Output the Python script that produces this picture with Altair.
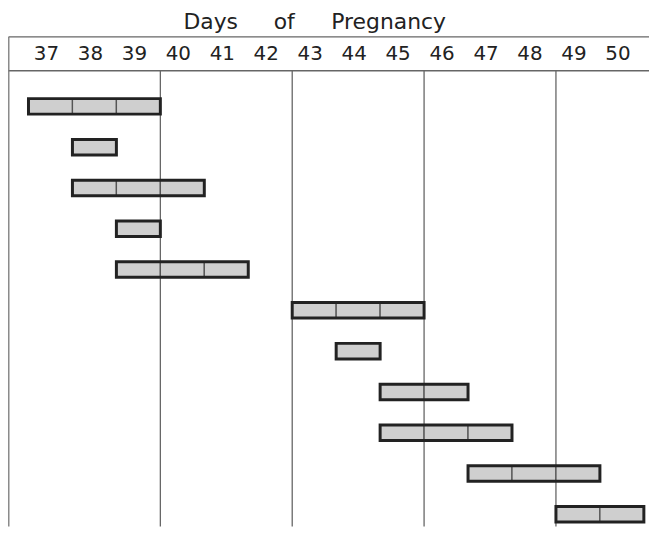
import altair as alt
import pandas as pd

# ---- data ----
days = list(range(37, 51))
bar_rows = list(range(1, 12))
bar_start = [37, 38, 38, 39, 39, 43, 44, 45, 45, 47, 49]
bar_end = [39, 38, 40, 39, 41, 45, 44, 46, 47, 49, 50]
week_ends = [39, 42, 45, 48]
title_words = ["Days", "of", "Pregnancy"]

# layout (pixels inside the plot area)
W, H = 645, 493
HEADER_Y = 34.5
title_x = [204, 278, 383]

bars = pd.DataFrame({"row": bar_rows, "start": bar_start, "end": bar_end})
cells = pd.DataFrame(
    [{"row": r, "day": d}
     for r, s, e in zip(bar_rows, bar_start, bar_end)
     for d in range(s, e + 1)]
)
weeks = pd.DataFrame({"day": week_ends})
hdr = pd.DataFrame({"day": days})
one = pd.DataFrame({"k": [0]})

xs = alt.Scale(domain=[36.034, 50.617], nice=False, zero=False)
ys = alt.Scale(domain=[-0.714, 11.296], nice=False, zero=False, reverse=True)
HALF = 0.19

# vertical week lines
vlines = alt.Chart(weeks).transform_calculate(xb="datum.day + 0.5").mark_rule(
    color="#666666", strokeWidth=1.3
).encode(
    x=alt.X("xb:Q", scale=xs, axis=None),
    y=alt.value(HEADER_Y),
    y2=alt.value(H),
)

# frame lines
top_line = alt.Chart(one).mark_rule(color="#666666", strokeWidth=1.3).encode(
    x=alt.value(0.5), x2=alt.value(W), y=alt.value(0.5)
)
hdr_line = alt.Chart(one).mark_rule(color="#666666", strokeWidth=1.3).encode(
    x=alt.value(0.5), x2=alt.value(W), y=alt.value(HEADER_Y)
)
left_line = alt.Chart(one).mark_rule(color="#777777", strokeWidth=1.3).encode(
    x=alt.value(0.8), y=alt.value(0.5), y2=alt.value(H)
)

# header day labels
hdr_text = alt.Chart(hdr).mark_text(
    font="DejaVu Sans", fontSize=20, color="#222222", baseline="middle", dx=-4
).encode(
    x=alt.X("day:Q", scale=xs, axis=None),
    y=alt.value(18),
    text=alt.Text("day:Q"),
)

# bar day cells
cell_layer = alt.Chart(cells).transform_calculate(
    x0="datum.day - 0.5", x1="datum.day + 0.5",
    y0=f"datum.row - {HALF}", y1=f"datum.row + {HALF}",
).mark_rect(fill="#cfcfcf", stroke="#555555", strokeWidth=1.3).encode(
    x=alt.X("x0:Q", scale=xs, axis=None),
    x2="x1:Q",
    y=alt.Y("y0:Q", scale=ys, axis=None),
    y2="y1:Q",
)

# bar outlines
outline = alt.Chart(bars).transform_calculate(
    x0="datum.start - 0.5", x1="datum.end + 0.5",
    y0=f"datum.row - {HALF}", y1=f"datum.row + {HALF}",
).mark_rect(filled=False, color="#222222", strokeWidth=3).encode(
    x=alt.X("x0:Q", scale=xs, axis=None),
    x2="x1:Q",
    y=alt.Y("y0:Q", scale=ys, axis=None),
    y2="y1:Q",
)

title_layers = [
    alt.Chart(one).mark_text(
        font="DejaVu Sans", fontSize=22, color="#222222", baseline="middle", text=w
    ).encode(x=alt.value(px), y=alt.value(-14))
    for w, px in zip(title_words, title_x)
]

chart = alt.layer(
    vlines, top_line, hdr_line, left_line, hdr_text, cell_layer, outline, *title_layers
).properties(
    width=W, height=H,
    autosize=alt.AutoSizeParams(type="none"),
    padding={"left": 0, "top": 27, "right": 0, "bottom": 0},
).configure_view(stroke=None)

chart.save("out.html", embed_options={"renderer": "svg", "actions": False})
